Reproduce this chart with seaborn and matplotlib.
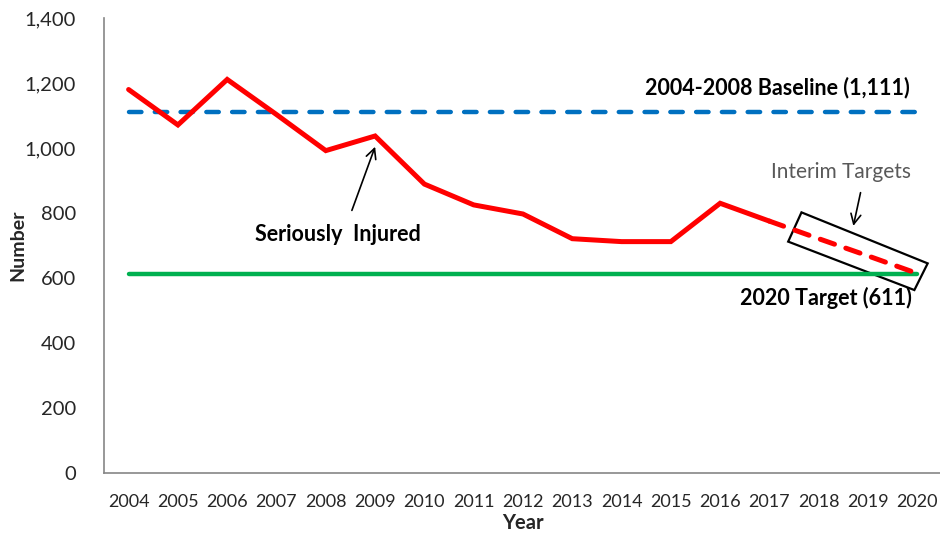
import numpy as np
import pandas as pd
import matplotlib
matplotlib.use('Agg')
import matplotlib.pyplot as plt
import seaborn as sns
from matplotlib.patches import Polygon

# data
years = list(range(2004, 2021))
actual_years = list(range(2004, 2018))
actual_values = [1180, 1071, 1211, 1103, 992, 1037, 889, 825, 797, 721, 712, 712, 830, 775]
interim_years = [2017, 2018, 2019, 2020]
interim_values = [775, 721, 668, 614]
baseline_value = 1111
target_value = 611

sns.set_theme(style='white')
plt.rcParams['font.family'] = ['Lato', 'DejaVu Sans']

fig = plt.figure(figsize=(9.4, 5.38), dpi=100)
ax = fig.add_axes([0.1106, 0.1208, 0.8915, 0.8457])

df_act = pd.DataFrame({'Year': actual_years, 'Number': actual_values})
df_int = pd.DataFrame({'Year': interim_years, 'Number': interim_values})
df_base = pd.DataFrame({'Year': years, 'Number': [baseline_value] * len(years)})
df_tgt = pd.DataFrame({'Year': years, 'Number': [target_value] * len(years)})

sns.lineplot(data=df_tgt, x='Year', y='Number', color='#00B050', linewidth=3.2, ax=ax)
sns.lineplot(data=df_base, x='Year', y='Number', color='#0070C0', linewidth=3.2, ax=ax)
ax.lines[-1].set_dashes([2.8, 3.0])
ax.lines[-1].set_dash_capstyle('round')
sns.lineplot(data=df_act, x='Year', y='Number', color='#FF0000', linewidth=3.6, ax=ax)
ax.lines[-1].set_solid_joinstyle('miter')
sns.lineplot(data=df_int, x='Year', y='Number', color='#FF0000', linewidth=3.6, ax=ax)
ax.lines[-1].set_dashes([3, 2.4])
ax.lines[-1].set_dash_capstyle('round')

ax.set_xlim(2003.5, 2020.5)
ax.set_ylim(0, 1400)
ax.set_xticks(years)
ax.set_xticklabels([str(y) for y in years], fontsize=13)
ax.set_yticks(range(0, 1401, 200))
ax.set_yticklabels([f'{v:,}' for v in range(0, 1401, 200)], fontsize=14.5)
ax.tick_params(axis='x', length=0, pad=15)
ax.tick_params(axis='y', length=0, pad=20)

ax.set_xlabel('Year', fontsize=14.5, fontweight='bold', labelpad=2)
ax.set_ylabel('Number', fontsize=14, fontweight='bold')
ax.yaxis.set_label_coords(-0.103, 0.5)
ax.yaxis.label.set_verticalalignment('center')

for side in ['top', 'right']:
    ax.spines[side].set_visible(False)
for side in ['left', 'bottom']:
    ax.spines[side].set_color('#868686')
    ax.spines[side].set_linewidth(1.2)

# annotations
ax.text(2019.84, 1185, '2004-2008 Baseline (1,111)', ha='right', va='center',
        fontsize=15.5, fontweight='bold', color='black')
ax.text(2019.88, 540, '2020 Target (611)', ha='right', va='center',
        fontsize=15.5, fontweight='bold', color='black')
ax.text(2008.25, 735, 'Seriously  Injured', ha='center', va='center',
        fontsize=15.5, fontweight='bold', color='black')
ax.annotate('', xy=(2009.02, 1012), xytext=(2008.51, 800),
            arrowprops=dict(arrowstyle='->', color='black', lw=1.2, mutation_scale=18))
ax.text(2018.45, 926, 'Interim Targets', ha='center', va='center',
        fontsize=15, color='#595959')
ax.annotate('', xy=(2018.69, 752), xytext=(2018.86, 871),
            arrowprops=dict(arrowstyle='->', color='black', lw=1.2, mutation_scale=18))
box = Polygon([(2017.65, 802), (2020.21, 645), (2019.94, 563), (2017.38, 712)],
              closed=True, fill=False, edgecolor='black', linewidth=1.6, clip_on=False)
ax.add_patch(box)

fig.savefig('out.png', dpi=100)
